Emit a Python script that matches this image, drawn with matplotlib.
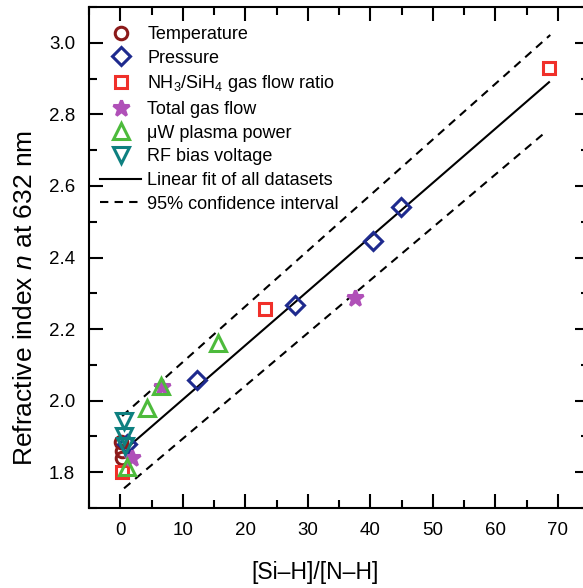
import numpy as np
import matplotlib.pyplot as plt
from matplotlib.lines import Line2D
from matplotlib.ticker import MultipleLocator

plt.rcParams['font.family'] = ['Liberation Sans', 'DejaVu Sans']
plt.rcParams['mathtext.fontset'] = 'custom'
plt.rcParams['mathtext.rm'] = 'Liberation Sans'
plt.rcParams['mathtext.it'] = 'Liberation Sans:italic'

# [Si-H]/[N-H] ratio vs refractive index, one series per deposition parameter
temp_x = [0.1, 0.2, 0.3]
temp_y = [1.885, 1.86, 1.84]
press_x = [1.1, 12.2, 27.9, 40.4, 44.9]
press_y = [1.878, 2.057, 2.267, 2.447, 2.54]
ratio_x = [0.3, 23.1, 68.6]
ratio_y = [1.80, 2.257, 2.93]
flow_x = [1.9, 6.7, 37.5]
flow_y = [1.84, 2.037, 2.286]
power_x = [1.0, 4.3, 6.5, 15.7]
power_y = [1.816, 1.979, 2.04, 2.161]
bias_x = [0.6, 0.6, 0.8]
bias_y = [1.943, 1.90, 1.872]

# linear fit and 95% band, endpoints
fit_x = [1.0, 68.6]
fit_y = [1.867, 2.89]
upper_x = [0.3, 68.8]
upper_y = [1.957, 3.022]
lower_x = [0.6, 68.0]
lower_y = [1.755, 2.75]

series = [
    ('Temperature', temp_x, temp_y, 'o', '#8B1A1A', 9, 'none'),
    ('Pressure', press_x, press_y, 'D', '#1E2A8E', 9, 'none'),
    ('NH$_3$/SiH$_4$ gas flow ratio', ratio_x, ratio_y, 's', '#F0302A', 8.5, 'none'),
    ('Total gas flow', flow_x, flow_y, '*', '#B050B8', 12, '#B050B8'),
    ('\u03bcW plasma power', power_x, power_y, '^', '#4DBB3C', 11, 'none'),
    ('RF bias voltage', bias_x, bias_y, 'v', '#0E8080', 11, 'none'),
]

fig = plt.figure(figsize=(5.83, 5.88), dpi=100)
ax = fig.add_axes([0.1527, 0.136, 0.8576, 0.852])

ax.plot(fit_x, fit_y, color='black', lw=1.5, zorder=2)
ax.plot(upper_x, upper_y, color='black', lw=1.5, ls=(0, (4, 3)), zorder=2)
ax.plot(lower_x, lower_y, color='black', lw=1.5, ls=(0, (4, 3)), zorder=2)

handles = []
for label, xs, ys, m, c, ms, fc in series:
    ax.plot(xs, ys, ls='none', marker=m, ms=ms, mec=c, mfc=fc, mew=2.2, zorder=3)
    handles.append(Line2D([], [], ls='none', marker=m, ms=ms, mec=c, mfc=fc,
                          mew=2.2, label=label))
handles.append(Line2D([], [], color='black', lw=1.5, label='Linear fit of all datasets'))
handles.append(Line2D([], [], color='black', lw=1.5, ls=(0, (4, 3)),
                      label='95% confidence interval'))

ax.legend(handles=handles, loc='upper left', frameon=False, fontsize=13,
          handlelength=2.3, handletextpad=0.33, labelspacing=0.37,
          borderaxespad=0.2, bbox_to_anchor=(0.0, 0.984))

ax.set_xlim(-5, 75)
ax.set_ylim(1.7, 3.1)
ax.xaxis.set_major_locator(MultipleLocator(10))
ax.xaxis.set_minor_locator(MultipleLocator(5))
ax.yaxis.set_major_locator(MultipleLocator(0.2))
ax.yaxis.set_minor_locator(MultipleLocator(0.1))
ax.yaxis.set_major_formatter(plt.FormatStrFormatter('%.1f'))
ax.tick_params(which='both', direction='in', top=True, right=True, width=1.5,
               labelsize=13.5, pad=10)
ax.tick_params(which='major', length=10)
ax.tick_params(which='minor', length=6)
for s in ax.spines.values():
    s.set_linewidth(1.5)

ax.set_xlabel('[Si\u2013H]/[N\u2013H]', fontsize=16.5)
ax.set_ylabel('Refractive index $n$ at 632 nm', fontsize=19)
ax.xaxis.set_label_coords(0.452, -0.106)
ax.yaxis.set_label_coords(-0.104, 0.42)

fig.savefig('out.png', dpi=100)
